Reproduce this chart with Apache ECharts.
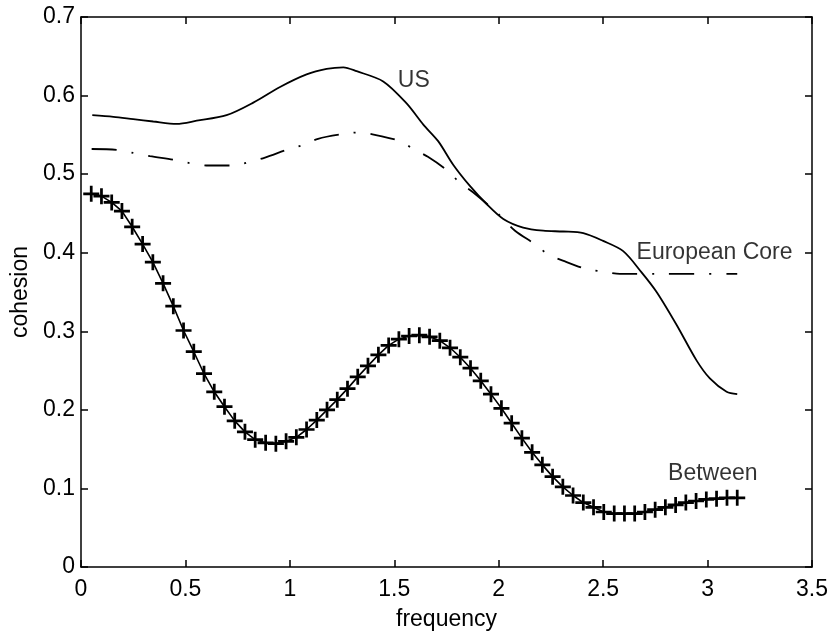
<!DOCTYPE html>
<html>
<head>
<meta charset="utf-8">
<script src="https://cdn.jsdelivr.net/npm/echarts@6/dist/echarts.min.js"></script>
<style>
html,body{margin:0;padding:0;background:#fff;}
#chart{width:833px;height:636px;}
</style>
</head>
<body>
<div id="chart"></div>
<script>
// ---- data ----
var xTicks = [0, 0.5, 1, 1.5, 2, 2.5, 3, 3.5];
var yTicks = [0, 0.1, 0.2, 0.3, 0.4, 0.5, 0.6, 0.7];

var usFreq = [0.054, 0.155, 0.250, 0.346, 0.458, 0.554, 0.697, 0.825, 0.953, 1.080, 1.176, 1.256, 1.320, 1.447, 1.559, 1.639, 1.710, 1.782, 1.862, 1.942, 2.022, 2.117, 2.213, 2.309, 2.405, 2.500, 2.596, 2.684, 2.756, 2.852, 2.947, 3.011, 3.091, 3.142];
var usVal  = [0.575, 0.573, 0.570, 0.567, 0.564, 0.568, 0.575, 0.591, 0.611, 0.627, 0.634, 0.636, 0.631, 0.618, 0.590, 0.563, 0.542, 0.512, 0.485, 0.462, 0.443, 0.432, 0.428, 0.427, 0.425, 0.415, 0.402, 0.375, 0.350, 0.308, 0.263, 0.240, 0.223, 0.220];

var euFreq = [0.051, 0.171, 0.250, 0.330, 0.450, 0.522, 0.608, 0.728, 0.799, 0.881, 0.986, 1.061, 1.135, 1.254, 1.327, 1.407, 1.527, 1.591, 1.661, 1.757, 1.814, 1.877, 1.991, 2.078, 2.173, 2.236, 2.307, 2.422, 2.499, 2.580, 2.800, 3.142];
var euVal  = [0.532, 0.531, 0.527, 0.523, 0.518, 0.514, 0.511, 0.511, 0.515, 0.521, 0.531, 0.537, 0.545, 0.551, 0.553, 0.550, 0.542, 0.532, 0.522, 0.504, 0.489, 0.477, 0.451, 0.428, 0.411, 0.398, 0.390, 0.379, 0.376, 0.373, 0.373, 0.373];

var betweenFreq = [0.049, 0.098, 0.147, 0.196, 0.245, 0.295, 0.344, 0.393, 0.442, 0.491, 0.540, 0.589, 0.638, 0.687, 0.736, 0.785, 0.834, 0.884, 0.933, 0.982, 1.031, 1.080, 1.129, 1.178, 1.227, 1.276, 1.325, 1.374, 1.424, 1.473, 1.522, 1.571, 1.620, 1.669, 1.718, 1.767, 1.816, 1.865, 1.914, 1.963, 2.013, 2.062, 2.111, 2.160, 2.209, 2.258, 2.307, 2.356, 2.405, 2.454, 2.503, 2.553, 2.602, 2.651, 2.700, 2.749, 2.798, 2.847, 2.896, 2.945, 2.994, 3.043, 3.093, 3.142];
var betweenVal  = [0.475, 0.472, 0.464, 0.453, 0.433, 0.411, 0.388, 0.361, 0.332, 0.301, 0.274, 0.246, 0.223, 0.204, 0.186, 0.172, 0.162, 0.158, 0.157, 0.160, 0.165, 0.175, 0.187, 0.200, 0.213, 0.227, 0.242, 0.256, 0.270, 0.282, 0.290, 0.294, 0.295, 0.293, 0.288, 0.279, 0.267, 0.253, 0.237, 0.220, 0.202, 0.183, 0.164, 0.146, 0.130, 0.115, 0.102, 0.091, 0.082, 0.076, 0.070, 0.068, 0.068, 0.068, 0.070, 0.073, 0.076, 0.079, 0.082, 0.084, 0.086, 0.087, 0.088, 0.088];

var annotNames = ['US', 'European Core', 'Between'];
var annotX = [1.517, 2.660, 2.811];
var annotY = [0.619, 0.4, 0.119];

// ---- build ----
function pairs(xs, ys) { return xs.map(function (x, i) { return [x, ys[i]]; }); }

var FONT = 'Liberation Sans, Arial, Helvetica, sans-serif';
var FS = 23;
var plusPath = 'path://M-1.2,-7L1.2,-7L1.2,-1.2L7,-1.2L7,1.2L1.2,1.2L1.2,7L-1.2,7L-1.2,1.2L-7,1.2L-7,-1.2L-1.2,-1.2Z';

function xAx(pos, show) {
  return {
    type: 'value', position: pos, min: xTicks[0], max: xTicks[xTicks.length - 1], interval: 0.5,
    axisLine: { show: true, onZero: false, lineStyle: { color: '#000', width: 1.5 } },
    axisTick: { show: true, inside: true, length: 7, lineStyle: { color: '#000', width: 1.5 } },
    axisLabel: { show: show, color: '#000', fontSize: FS, fontFamily: FONT, margin: 11 },
    splitLine: { show: false },
    name: show ? 'frequency' : '', nameLocation: 'middle', nameGap: 41,
    nameTextStyle: { color: '#000', fontSize: FS, fontFamily: FONT }
  };
}
function yAx(pos, show) {
  return {
    type: 'value', position: pos, min: yTicks[0], max: yTicks[yTicks.length - 1], interval: 0.1,
    axisLine: { show: true, onZero: false, lineStyle: { color: '#000', width: 1.5 } },
    axisTick: { show: true, inside: true, length: 7, lineStyle: { color: '#000', width: 1.5 } },
    axisLabel: { show: show, color: '#000', fontSize: FS, fontFamily: FONT, margin: 6,
      formatter: function (v) { return v === 0 ? '0' : v.toFixed(1); } },
    splitLine: { show: false },
    name: show ? 'cohesion' : '', nameLocation: 'middle', nameGap: 48, nameRotate: 90,
    nameTextStyle: { color: '#000', fontSize: FS, fontFamily: FONT }
  };
}

var chart = echarts.init(document.getElementById('chart'), null, { renderer: 'canvas' });
chart.setOption({
  animation: false,
  backgroundColor: '#fff',
  grid: { left: 81, right: 21, top: 17, bottom: 67, containLabel: false },
  xAxis: [xAx('bottom', true), xAx('top', false)],
  yAxis: [yAx('left', true), yAx('right', false)],
  series: [
    {
      name: 'US', type: 'line', data: pairs(usFreq, usVal), smooth: 0.3,
      showSymbol: false, lineStyle: { color: '#000', width: 1.8 }
    },
    {
      name: 'European Core', type: 'line', data: pairs(euFreq, euVal), smooth: 0.3,
      showSymbol: false, lineStyle: { color: '#000', width: 1.8, type: [25, 15, 2, 15] }
    },
    {
      name: 'Between', type: 'line', data: pairs(betweenFreq, betweenVal), smooth: false,
      showSymbol: true, showAllSymbol: true, symbol: plusPath, symbolSize: 16,
      itemStyle: { color: '#000', borderWidth: 0 },
      lineStyle: { color: '#000', width: 1.6 }
    },
    {
      type: 'scatter', symbolSize: 0, silent: true,
      data: annotNames.map(function (n, i) { return { name: n, value: [annotX[i], annotY[i]] }; }),
      label: {
        show: true, position: [0, 0], align: 'left', verticalAlign: 'middle',
        formatter: function (p) { return p.name; },
        color: '#000', fontSize: FS, fontFamily: FONT
      }
    }
  ]
});
</script>
</body>
</html>
